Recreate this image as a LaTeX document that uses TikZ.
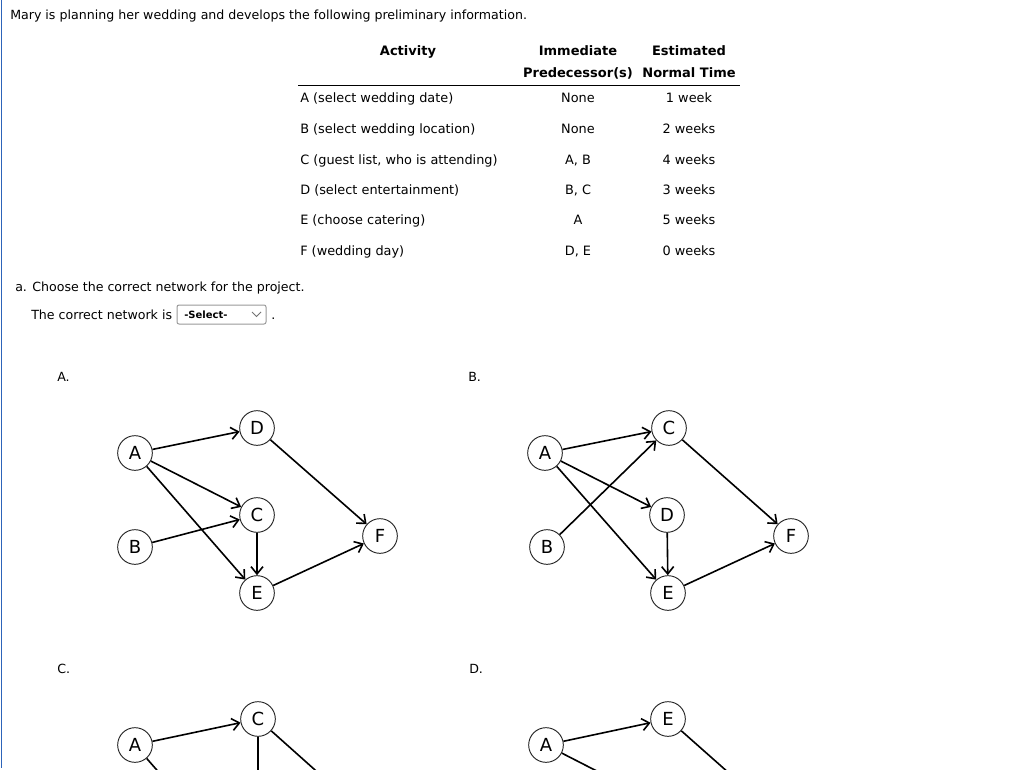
\documentclass[tikz,border=0pt]{standalone}
\usepackage{fontspec}
\setmainfont{DejaVu Sans}
\usetikzlibrary{arrows.meta}
\definecolor{bordblue}{RGB}{45,100,185}
\begin{document}
\begin{tikzpicture}[x=0.75pt,y=-0.75pt,
  txt/.style={font=\fontsize{9.45}{12}\selectfont, inner sep=0pt, anchor=base west},
  cell/.style={font=\fontsize{9.65}{12}\selectfont, inner sep=0pt, anchor=base west},
  ctr/.style={font=\fontsize{9.65}{12}\selectfont, inner sep=0pt, anchor=base},
  hdr/.style={font=\bfseries\fontsize{9.75}{12}\selectfont, inner sep=0pt, anchor=base},
  ev/.style={circle, draw=black!85, line width=0.7pt, minimum size=26pt, inner sep=0pt, font=\fontsize{13.5}{13.5}\selectfont},
  arr/.style={line width=1.2pt, -{Straight Barb[length=5.5pt,width=9pt]}},
  ln/.style={line width=1.2pt}]
\useasboundingbox (0,0) rectangle (1024,774);
\fill[white] (0,0) rectangle (1024,774);
\draw[bordblue, line width=1.1pt] (1.5,0) coordinate (b1) -- (1.5,768) coordinate (b2);

\node[txt] (intro) at (10,20) {Mary is planning her wedding and develops the following preliminary information.};

% table
\node[hdr] (h1) at (408,56) {Activity};
\node[hdr] (h2a) at (578,56) {Immediate};
\node[hdr] (h2b) at (578,78) {Predecessor(s)};
\node[hdr] (h3a) at (689,56) {Estimated};
\node[hdr] (h3b) at (689,78) {Normal Time};
\draw[line width=0.8pt] (298,85.5) coordinate (r1) -- (740,85.5) coordinate (r2);

\node[cell] (a1) at (300,103) {A (select wedding date)};
\node[ctr] (p1) at (578,103) {None};
\node[ctr] (t1) at (689,103) {1 week};
\node[cell] (a2) at (300,133) {B (select wedding location)};
\node[ctr] (p2) at (578,133) {None};
\node[ctr] (t2) at (689,133) {2 weeks};
\node[cell] (a3) at (300,164) {C (guest list, who is attending)};
\node[ctr] (p3) at (578,164) {A, B};
\node[ctr] (t3) at (689,164) {4 weeks};
\node[cell] (a4) at (300,194) {D (select entertainment)};
\node[ctr] (p4) at (578,194) {B, C};
\node[ctr] (t4) at (689,194) {3 weeks};
\node[cell] (a5) at (300,224) {E (choose catering)};
\node[ctr] (p5) at (578,224) {A};
\node[ctr] (t5) at (689,224) {5 weeks};
\node[cell] (a6) at (300,255) {F (wedding day)};
\node[ctr] (p6) at (578,255) {D, E};
\node[ctr] (t6) at (689,255) {0 weeks};

% question
\node[txt] (qa) at (15,291) {a. Choose the correct network for the project.};
\node[txt] (qb) at (31,319) {The correct network is};
\draw[black!40, line width=0.75pt, rounded corners=1.5pt] (177,305) rectangle (266,324);
\node[font=\bfseries\fontsize{7.5}{9}\selectfont, inner sep=0pt, anchor=base west] (sel) at (184,318) {-Select-};
\draw[black!55, line width=0.6pt] (252,312) coordinate (v1) -- (256.5,316.5) coordinate (v2) -- (261,312) coordinate (v3);
\node[txt] (dot) at (271,319) {.};

% option labels
\node[txt] (lA) at (57,381) {A.};
\node[txt] (lB) at (468,381) {B.};
\node[txt] (lC) at (57,673) {C.};
\node[txt] (lD) at (469,673) {D.};

% Graph A
\node[ev] (gaA) at (135,453) {A};
\node[ev] (gaD) at (257,428) {D};
\node[ev] (gaC) at (257,515) {C};
\node[ev] (gaB) at (135,547) {B};
\node[ev] (gaE) at (257,593) {E};
\node[ev] (gaF) at (380,536) {F};
\draw[arr] (gaA) -- (gaD);
\draw[arr] (gaA) -- (gaC);
\draw[arr] (gaA) -- (gaE);
\draw[arr] (gaB) -- (gaC);
\draw[arr] (gaC) -- (gaE);
\draw[arr] (gaD) -- (gaF);
\draw[arr] (gaE) -- (gaF);

% Graph B
\node[ev] (gbA) at (545,453) {A};
\node[ev] (gbC) at (669,428) {C};
\node[ev] (gbD) at (667,515) {D};
\node[ev] (gbB) at (547,547) {B};
\node[ev] (gbE) at (668,593) {E};
\node[ev] (gbF) at (791,536) {F};
\draw[arr] (gbA) -- (gbC);
\draw[arr] (gbA) -- (gbD);
\draw[arr] (gbA) -- (gbE);
\draw[arr] (gbB) -- (gbC);
\draw[arr] (gbC) -- (gbF);
\draw[arr] (gbD) -- (gbE);
\draw[arr] (gbE) -- (gbF);

% Graph C (cut off at bottom)
\node[ev] (gcA) at (135,745) {A};
\node[ev] (gcC) at (258,719) {C};
\coordinate (gcM) at (258,807);
\coordinate (gcE) at (257,885);
\coordinate (gcF) at (380,828);
\draw[arr] (gcA) -- (gcC);
\begin{scope}
\clip (0,0) rectangle (1024,769);
\draw[ln] (gcA) -- (gcE);
\draw[ln] (gcC) -- (gcM);
\draw[ln] (gcC) -- (gcF);
\end{scope}

% Graph D (cut off at bottom)
\node[ev] (gdA) at (546,745) {A};
\node[ev] (gdE) at (668,719) {E};
\coordinate (gdM) at (667,807);
\coordinate (gdF) at (791,828);
\draw[arr] (gdA) -- (gdE);
\begin{scope}
\clip (0,0) rectangle (1024,769);
\draw[ln] (gdA) -- (gdM);
\draw[ln] (gdE) -- (gdF);
\end{scope}
\end{tikzpicture}
\end{document}
